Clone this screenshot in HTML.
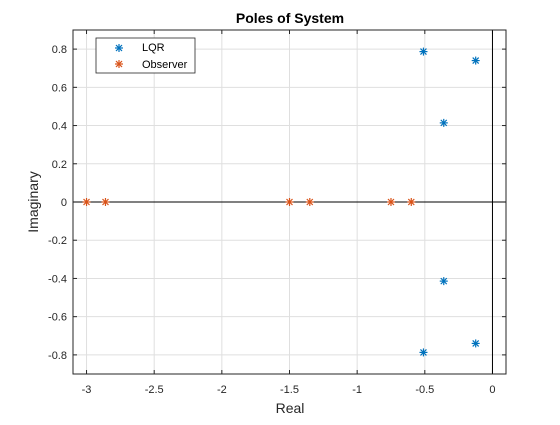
<!DOCTYPE html>
<html><head><meta charset="utf-8"><style>
body{margin:0;background:#fff;}
svg text{font-family:"Liberation Sans",Arial,sans-serif;}
</style></head><body>
<svg id="chart" width="560" height="420" xmlns="http://www.w3.org/2000/svg">
<rect width="560" height="420" fill="#fff"/>
<g id="grid"></g>
<g id="axes"></g>
<g id="marks"></g>
<text x="290" y="23" text-anchor="middle" font-size="14" font-weight="bold" fill="#000">Poles of System</text>
<text x="290" y="413" text-anchor="middle" font-size="14" fill="#262626">Real</text>
<text transform="translate(38,202) rotate(-90)" text-anchor="middle" font-size="14" fill="#262626">Imaginary</text>
<g>
<rect x="96" y="38" width="99" height="35" fill="#fff" stroke="#262626" stroke-width="0.8"/>
<g id="leg"></g>
<text x="142" y="51" font-size="11" fill="#000">LQR</text>
<text x="142" y="68" font-size="11" fill="#000">Observer</text>
</g>
</svg>
<script>
const xTicks=[-3,-2.5,-2,-1.5,-1,-0.5,0];
const yTicks=[-0.8,-0.6,-0.4,-0.2,0,0.2,0.4,0.6,0.8];
const lqrRe=[-0.51,-0.124,-0.36,-0.36,-0.51,-0.124];
const lqrIm=[0.787,0.74,0.414,-0.414,-0.787,-0.74];
const obsRe=[-3,-2.86,-1.5,-1.35,-0.75,-0.6];
const obsIm=[0,0,0,0,0,0];
const L=73,R=506,T=30,B=374,X0=-3.1,X1=0.1,Y0=-0.9,Y1=0.9;
const sx=v=>L+(v-X0)/(X1-X0)*(R-L);
const sy=v=>B-(v-Y0)/(Y1-Y0)*(B-T);
const NS="http://www.w3.org/2000/svg";
function mk(t,a,p){const e=document.createElementNS(NS,t);for(const k in a)e.setAttribute(k,a[k]);p.appendChild(e);return e;}
const g=document.getElementById('grid'),ax=document.getElementById('axes'),m=document.getElementById('marks');
xTicks.forEach(v=>{const x=sx(v);
const l=mk('line',{x1:x,x2:x,y1:T,y2:B,stroke:'#dfdfdf','stroke-width':1},g);

mk('line',{x1:x,x2:x,y1:B,y2:B-4,stroke:'#262626'},ax);mk('line',{x1:x,x2:x,y1:T,y2:T+4,stroke:'#262626'},ax);
const t=mk('text',{x:x,y:B+19,'text-anchor':'middle','font-size':11,fill:'#262626'},ax);t.textContent=String(v);
});
yTicks.forEach(v=>{const y=sy(v);
const l=mk('line',{x1:L,x2:R,y1:y,y2:y,stroke:'#dfdfdf','stroke-width':1},g);

mk('line',{x1:L,x2:L+4,y1:y,y2:y,stroke:'#262626'},ax);mk('line',{x1:R,x2:R-4,y1:y,y2:y,stroke:'#262626'},ax);
const t=mk('text',{x:L-6,y:y+4,'text-anchor':'end','font-size':11,fill:'#262626'},ax);t.textContent=v===0?'0':v.toFixed(1);
});
mk('line',{x1:sx(0),x2:sx(0),y1:T,y2:B,stroke:'#000','stroke-width':1},ax);
mk('line',{x1:L,x2:R,y1:sy(0),y2:sy(0),stroke:'#000','stroke-width':1},ax);
mk('rect',{x:L,y:T,width:R-L,height:B-T,fill:'none',stroke:'#262626','stroke-width':1},ax);
function star(x,y,c,p){const gg=mk('g',{stroke:c,'stroke-width':1.2},p);
mk('line',{x1:x-4,x2:x+4,y1:y,y2:y},gg);mk('line',{x1:x,x2:x,y1:y-4,y2:y+4},gg);
mk('line',{x1:x-3,x2:x+3,y1:y-3,y2:y+3},gg);mk('line',{x1:x-3,x2:x+3,y1:y+3,y2:y-3},gg);return gg;}
lqrRe.forEach((v,i)=>{const s=star(sx(v),sy(lqrIm[i]),'#0072bd',m);
});
obsRe.forEach((v,i)=>{const s=star(sx(v),sy(obsIm[i]),'#d95319',m);
});
const lg=document.getElementById('leg');
const a=star(119,48,'#0072bd',lg);
const b=star(119,64,'#d95319',lg);
</script>
</body></html>
